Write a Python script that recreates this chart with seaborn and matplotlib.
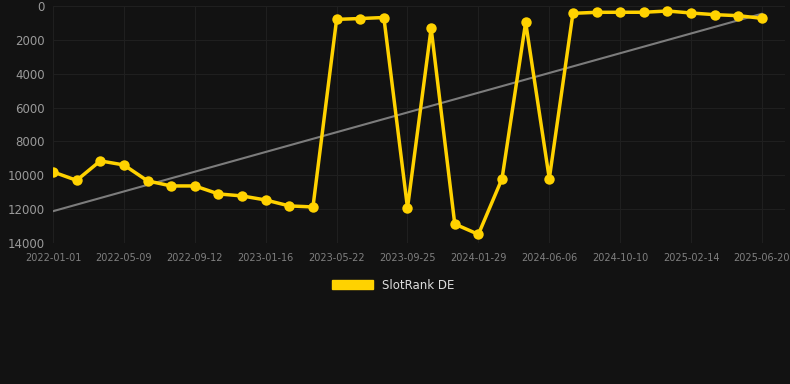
import numpy as np
import pandas as pd
import matplotlib
matplotlib.use("Agg")
import matplotlib.pyplot as plt
import seaborn as sns
from matplotlib.patches import Patch

# SlotRank DE values (lower = better), one point per ~42 days
ranks = [9800, 10300, 9150, 9390, 10330, 10630, 10630, 11100, 11220, 11460,
         11810, 11870, 790, 740, 680, 11930, 1320, 12880, 13490, 10200,
         965, 10200, 433, 373, 370, 370, 295, 413, 512, 572, 728]
tick_labels = ["2022-01-01", "2022-05-09", "2022-09-12", "2023-01-16", "2023-05-22",
               "2023-09-25", "2024-01-29", "2024-06-06", "2024-10-10", "2025-02-14",
               "2025-06-20"]
y_ticks = [0, 2000, 4000, 6000, 8000, 10000, 12000, 14000]

df = pd.DataFrame({"idx": np.arange(len(ranks)), "rank": ranks})

bg = "#121212"
gold = "#FFD200"

sns.set_style("dark")
plt.rcParams["font.family"] = ["DejaVu Sans"]

fig = plt.figure(figsize=(7.9, 3.84), dpi=100, facecolor=bg)
ax = fig.add_axes([53 / 790, 1 - 243 / 384, (785 - 53) / 790, (243 - 6) / 384])
ax.set_facecolor(bg)

# trend line (linear fit)
k, b = np.polyfit(df["idx"], df["rank"], 1)
trend = k * df["idx"] + b
ax.plot(df["idx"], trend, color="#7c7c7c", lw=1.5, zorder=2)

sns.lineplot(data=df, x="idx", y="rank", ax=ax, color=gold, lw=2.5,
             marker="o", markersize=7.5, markeredgewidth=0, zorder=3,
             solid_joinstyle="miter")

ax.set_ylim(14000, 0)
ax.set_xlim(0, len(ranks) - 1 + 23 / 23.63)
ax.set_yticks(y_ticks)
ax.set_yticklabels([str(t) for t in y_ticks], color="#9a9a9a", fontsize=8.5)
ax.set_xticks(np.arange(0, len(ranks), 3))
ax.set_xticklabels(tick_labels, color="#808080", fontsize=7)
ax.tick_params(axis="y", length=0, pad=6)
ax.tick_params(axis="x", length=4, color="#2a2a2a", pad=3)
ax.grid(True, color="#1f1f1f", lw=0.8)
for s in ax.spines.values():
    s.set_visible(False)
ax.set_xlabel("")
ax.set_ylabel("")

ax.legend(handles=[Patch(facecolor=gold, edgecolor=gold, label="SlotRank DE")],
          loc="upper center", bbox_to_anchor=(0.465, -0.105), frameon=False,
          labelcolor="#dddddd", fontsize=8.5, handlelength=3.4, handleheight=0.9)

fig.savefig("out.png", dpi=100, facecolor=bg)
